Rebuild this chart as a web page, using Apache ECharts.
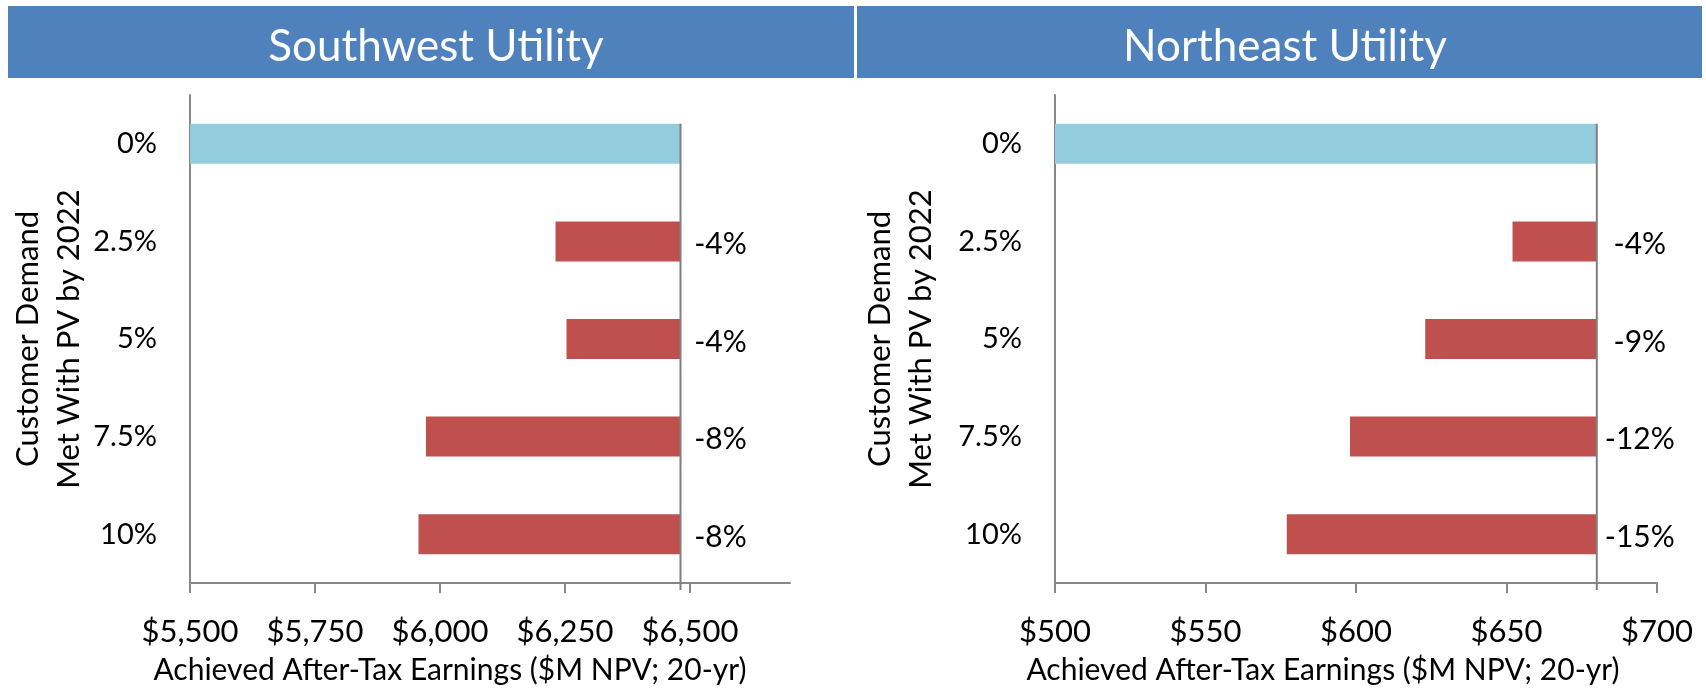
<!DOCTYPE html>
<html>
<head>
<meta charset="utf-8">
<script src="https://cdn.jsdelivr.net/npm/echarts@6.0.0/dist/echarts.min.js"></script>
<style>
  html, body { margin: 0; padding: 0; background: #fff; }
  #chart { width: 1706px; height: 690px; }
</style>
</head>
<body>
<div id="chart"></div>
<script>
  // categories (share of customer demand met with PV)
  const categories = ['0%', '2.5%', '5%', '7.5%', '10%'];

  // Southwest utility, $M NPV
  const swValues = [6481, 6231, 6253, 5972, 5957];
  const swLabels = ['', '-4%', '-4%', '-8%', '-8%'];
  const swTicks = [5500, 5750, 6000, 6250, 6500];

  // Northeast utility, $M NPV
  const neValues = [680, 652, 623, 598, 577];
  const neLabels = ['', '-4%', '-9%', '-12%', '-15%'];

  const FONT = 'Lato';
  const BLUE = '#93CDDD';
  const RED = '#C0504D';
  const GREY = '#878787';

  const chart = echarts.init(document.getElementById('chart'));

  function yAxisFor(gridIndex, nameGap) {
    return {
      type: 'category',
      gridIndex: gridIndex,
      inverse: true,
      data: categories,
      name: 'Customer Demand\nMet With PV by 2022',
      nameLocation: 'middle',
      nameGap: nameGap,
      nameTextStyle: { fontFamily: FONT, fontSize: 31, color: '#000', lineHeight: 41 },
      axisLine: { lineStyle: { color: GREY, width: 2 } },
      axisTick: { length: 10, lineStyle: { color: GREY, width: 2 } },
      axisLabel: { fontFamily: FONT, fontSize: 29, color: '#000', margin: 33 }
    };
  }

  function xAxisFor(gridIndex, min, max, interval, ticks, shift) {
    const axis = {
      type: 'value',
      gridIndex: gridIndex,
      min: min,
      max: max,
      interval: interval,
      splitLine: { show: false },
      name: 'Achieved After-Tax Earnings ($M NPV; 20-yr)',
      nameLocation: 'middle',
      nameGap: 72,
      nameTextStyle: { fontFamily: FONT, fontSize: 30, color: '#000', padding: [0, shift, 0, 0] },
      axisLine: { show: true, lineStyle: { color: GREY, width: 2 } },
      axisTick: { show: true, length: 10, lineStyle: { color: GREY, width: 2 } },
      axisLabel: {
        fontFamily: FONT, fontSize: 31, color: '#000', margin: 33,
        formatter: v => '$' + v.toLocaleString('en-US')
      }
    };
    if (ticks) {
      axis.axisTick.customValues = ticks;
      axis.axisLabel.customValues = ticks;
    }
    return axis;
  }

  function barSeries(idx, values, labels, labelDist) {
    const base = values[0];
    const placeholder = values.map((v, i) => i === 0
      ? { value: v, itemStyle: { color: BLUE } }
      : { value: v, itemStyle: { color: 'rgba(0,0,0,0)' } });
    const drop = values.map((v, i) => i === 0 ? '-' : base - v);
    return [
      {
        type: 'bar',
        xAxisIndex: idx,
        yAxisIndex: idx,
        stack: 's' + idx,
        barWidth: 40,
        silent: true,
        data: placeholder
      },
      {
        type: 'bar',
        xAxisIndex: idx,
        yAxisIndex: idx,
        stack: 's' + idx,
        barWidth: 40,
        silent: true,
        itemStyle: { color: RED },
        label: {
          show: true,
          position: 'right',
          distance: labelDist,
          align: 'center',
          offset: [0, 3],
          fontFamily: FONT,
          fontSize: 30,
          color: '#000',
          formatter: p => labels[p.dataIndex]
        },
        data: drop
      },
      {
        // reference line at the 0% value, from the top of the first bar down past the axis
        type: 'custom',
        xAxisIndex: idx,
        yAxisIndex: idx,
        silent: true,
        z: 5,
        encode: { x: 0, y: 1 },
        data: [[base, 0]],
        renderItem: (params, api) => {
          const top = api.coord([api.value(0), 0]);
          const bottom = api.coord([api.value(0), categories.length - 1]);
          const band = api.size([0, 1])[1];
          return {
            type: 'line',
            shape: { x1: top[0], y1: top[1] - 20, x2: top[0], y2: bottom[1] + band / 2 + 7 },
            style: { stroke: '#7F7F7F', lineWidth: 2 }
          };
        }
      }
    ];
  }

  const option = {
    animation: false,
    backgroundColor: '#fff',
    graphic: [
      { type: 'rect', shape: { x: 8, y: 6, width: 846, height: 72 }, style: { fill: '#4F81BD' } },
      { type: 'rect', shape: { x: 857, y: 6, width: 845, height: 72 }, style: { fill: '#4F81BD' } }
    ],
    title: [
      {
        text: 'Southwest Utility', left: 431, top: 20, textAlign: 'center',
        textStyle: { color: '#fff', fontSize: 44, fontWeight: 'normal', fontFamily: FONT }
      },
      {
        text: 'Northeast Utility', left: 1280, top: 20, textAlign: 'center',
        textStyle: { color: '#fff', fontSize: 44, fontWeight: 'normal', fontFamily: FONT }
      }
    ],
    grid: [
      { left: 190, right: 916, top: 95, bottom: 107, outerBoundsMode: 'none' },
      { left: 1055, right: 49, top: 95, bottom: 107, outerBoundsMode: 'none' }
    ],
    xAxis: [
      xAxisFor(0, 5500, 6700, 250, swTicks, 80),
      xAxisFor(1, 500, 700, 50, null, 66)
    ],
    yAxis: [
      yAxisFor(0, 101),
      yAxisFor(1, 114)
    ],
    series: barSeries(0, swValues, swLabels, 40).concat(barSeries(1, neValues, neLabels, 43))
  };

  chart.setOption(option);
</script>
</body>
</html>
